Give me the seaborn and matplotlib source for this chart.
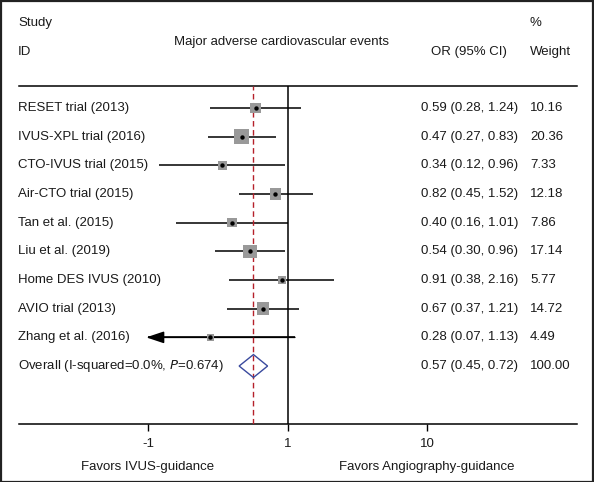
import matplotlib
matplotlib.use("Agg")
import matplotlib.pyplot as plt
import matplotlib.transforms as mtransforms
from matplotlib import font_manager
from matplotlib.patches import Rectangle
import numpy as np
import pandas as pd
import seaborn as sns

studies = ["RESET trial (2013)", "IVUS-XPL trial (2016)", "CTO-IVUS trial (2015)",
           "Air-CTO trial (2015)", "Tan et al. (2015)", "Liu et al. (2019)",
           "Home DES IVUS (2010)", "AVIO trial (2013)", "Zhang et al. (2016)"]
odds = [0.59, 0.47, 0.34, 0.82, 0.40, 0.54, 0.91, 0.67, 0.28]
ci_low = [0.28, 0.27, 0.12, 0.45, 0.16, 0.30, 0.38, 0.37, 0.07]
ci_high = [1.24, 0.83, 0.96, 1.52, 1.01, 0.96, 2.16, 1.21, 1.13]
weights = [10.16, 20.36, 7.33, 12.18, 7.86, 17.14, 5.77, 14.72, 4.49]

overall_label = "Overall (I-squared=0.0%, $\\it{P}$=0.674)"
overall_or, overall_low, overall_high = 0.57, 0.45, 0.72
overall_weight = 100.00

tick_values = [0.1, 1, 10]
tick_labels = ["-1", "1", "10"]
x_min, x_max = 0.1, 10  # clipping range for CIs

sns.set_theme(style="white")
names = {f.name for f in font_manager.fontManager.ttflist}
family = ["Liberation Sans Narrow", "DejaVu Sans"] if "Liberation Sans Narrow" in names else ["Liberation Sans", "DejaVu Sans"]
plt.rcParams["font.family"] = family
fs = 9.5

df = pd.DataFrame({"study": studies, "OR": odds, "lo": ci_low, "hi": ci_high,
                   "w": weights, "row": np.arange(len(studies))})

W, H = 594, 482
fig = plt.figure(figsize=(W / 100, H / 100), dpi=100)
# plot region in pixels: x 19..577, y 86..424
ax = fig.add_axes([19 / W, (H - 424.3) / H, (577 - 19) / W, (424.3 - 86) / H])
ax.set_xscale("log")
ax.set_xlim(10 ** ((19 - 287.5) / 139.5), 10 ** ((577 - 287.5) / 139.5))
row_px = 28.67
ax.set_ylim((424.3 - 108) / row_px, (86 - 108) / row_px)

# confidence intervals (clipped)
lo_c = df["lo"].clip(lower=x_min)
hi_c = df["hi"].clip(upper=x_max)
ax.hlines(df["row"], lo_c, hi_c, color="black", lw=1.1, zorder=2)
for _, r in df[df["lo"] < x_min].iterrows():
    ax.annotate("", xy=(x_min * 0.97, r["row"]), xytext=(r["hi"], r["row"]),
                arrowprops=dict(arrowstyle="-|>,head_length=0.9,head_width=0.3",
                                color="black", lw=1.1, shrinkA=0, shrinkB=0))

# null line and overall line
ax.axvline(1, color="black", lw=1.1, zorder=1)
ax.axvline(overall_or, color="#b5202a", lw=1.0, ls=(0, (4, 2.5)), zorder=3)

# weight squares and point estimates
c = 5.4
sns.scatterplot(data=df, x="OR", y="row", size="w", sizes=(min(weights) * c, max(weights) * c),
                size_norm=(min(weights), max(weights)), marker="s", color="#999999",
                linewidth=0, legend=False, ax=ax, zorder=4)
sns.scatterplot(data=df, x="OR", y="row", marker="o", color="black", s=10,
                linewidth=0, legend=False, ax=ax, zorder=5)

# overall diamond
yo = len(studies)
dh = 0.4
ax.fill([overall_low, overall_or, overall_high, overall_or, overall_low],
        [yo, yo - dh, yo, yo + dh, yo], facecolor="none", edgecolor="#3a4a9e", lw=1.0, zorder=4)

# axes styling
ax.set_xlabel("")
ax.set_ylabel("")
for s in ["left", "right"]:
    ax.spines[s].set_visible(False)
for s in ["top", "bottom"]:
    ax.spines[s].set_color("black")
    ax.spines[s].set_linewidth(1.1)
ax.set_yticks([])
ax.set_xticks(tick_values)
ax.set_xticklabels(tick_labels, fontsize=fs)
ax.xaxis.set_minor_locator(plt.NullLocator())
ax.tick_params(axis="x", bottom=True, direction="out", length=5, width=1, color="black",
               pad=5, labelcolor="#1a1a1a")

# text columns: x in figure pixels, y in row units
tr = mtransforms.blended_transform_factory(fig.transFigure, ax.transData)
def txt(px, row, s, ha="left"):
    ax.text(px / W, row, s, transform=tr, ha=ha, va="center", fontsize=fs,
            color="#1a1a1a", clip_on=False)

rows_all = list(df["row"]) + [yo]
labels_all = studies + [overall_label]
or_txt = [f"{o:.2f} ({l:.2f}, {h:.2f})" for o, l, h in zip(odds, ci_low, ci_high)]
or_txt.append(f"{overall_or:.2f} ({overall_low:.2f}, {overall_high:.2f})")
w_txt = [f"{w:.2f}" for w in weights] + [f"{overall_weight:.2f}"]
for r, lab, o, w in zip(rows_all, labels_all, or_txt, w_txt):
    txt(18, r, lab)
    txt(421, r, o)
    txt(530, r, w)

def prow(py):
    return (py - 108) / row_px

txt(18, prow(22.7), "Study")
txt(18, prow(51.7), "ID")
txt(281, prow(41.7), "Major adverse cardiovascular events", ha="center")
txt(431, prow(51.7), "OR (95% CI)")
txt(530, prow(22.7), "%")
txt(530, prow(51.7), "Weight")

ax.text(0.1, prow(467), "Favors IVUS-guidance", ha="center", va="center", fontsize=fs,
        color="#1a1a1a", clip_on=False)
ax.text(10, prow(467), "Favors Angiography-guidance", ha="center", va="center", fontsize=fs,
        color="#1a1a1a", clip_on=False)

fig.add_artist(Rectangle((0.5 / W, 0.5 / H), 1 - 1.5 / W, 1 - 1.5 / H, transform=fig.transFigure,
                         fill=False, edgecolor="#222222", lw=1.6))

fig.savefig("out.png", dpi=100)
